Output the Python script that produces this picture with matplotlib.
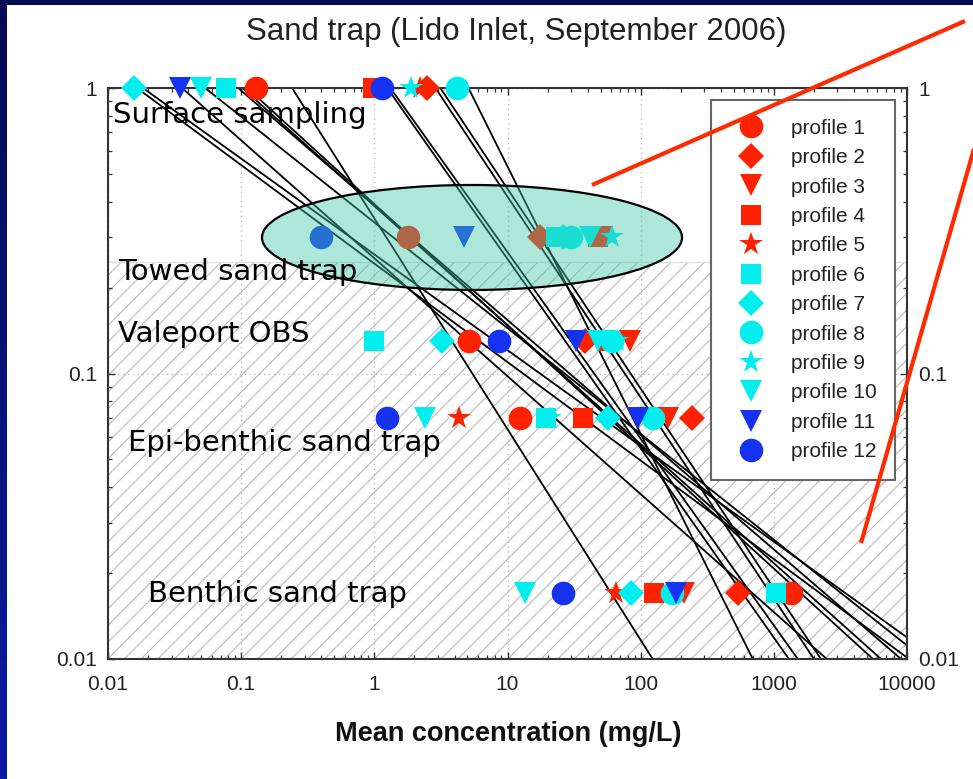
import numpy as np
import matplotlib
matplotlib.use("Agg")
import matplotlib.pyplot as plt
from matplotlib.patches import Ellipse, Rectangle
from matplotlib.lines import Line2D
from matplotlib.ticker import FixedLocator, LogLocator, NullFormatter

plt.rcParams['font.family'] = ['Liberation Sans', 'DejaVu Sans']
plt.rcParams['hatch.linewidth'] = 0.8

nan = np.nan

# sampling levels, top to bottom
heights = [1.0, 0.30, 0.13, 0.07, 0.017]
level_names = ["Surface sampling", "Towed sand trap", "Valeport OBS",
               "Epi-benthic sand trap", "Benthic sand trap"]

# mean concentration (mg/L) per profile at each level
profile_conc = {
    "profile 1":  [0.13, 1.8, 5.1, 12.5, 1340],
    "profile 2":  [2.5, 17.5, 38, 245, 540],
    "profile 3":  [nan, 51, 83, 160, 210],
    "profile 4":  [0.98, 48, 56, 36.6, 125],
    "profile 5":  [2.2, nan, 60, 4.3, 65],
    "profile 6":  [0.077, 23, 1.0, 19.3, 1030],
    "profile 7":  [0.0157, 26, 3.2, 57, 85],
    "profile 8":  [4.2, 30, 61, 124, 173],
    "profile 9":  [1.9, 61, 66, 21, nan],
    "profile 10": [0.050, 42, 47.5, 2.4, 13.5],
    "profile 11": [0.035, 4.7, 32.5, 95, 183],
    "profile 12": [1.15, 0.40, 8.7, 1.25, 26],
}
profile_colors = ['#ff2200'] * 5 + ['#00eeee'] * 5 + ['#1432f0'] * 2
profile_markers = ['o', 'D', 'v', 's', '*', 's', 'D', 'o', '*', 'v', 'v', 'o']

# power-law fits: concentration at height 1 and at height 0.01
fit_top = [0.0165, 0.0183, 0.036, 0.0536, 0.0948, 0.102, 0.111,
           0.241, 1.25, 1.32, 2.88, 3.13, 5.09]
fit_bottom = [10350, 16800, 2500, 13430, 9020, 6380, 5550,
              123, 1297, 1514, 2000, 2256, 695]

xticks = [0.01, 0.1, 1, 10, 100, 1000, 10000]
xticklabels = ['0.01', '0.1', '1', '10', '100', '1000', '10000']
yticks = [0.01, 0.1, 1]
yticklabels = ['0.01', '0.1', '1']

marker_size = {'o': 17, 's': 14, 'D': 13.5, 'v': 16, '*': 17.5}

W, H = 973, 779
fig = plt.figure(figsize=(W / 100, H / 100), dpi=100)
fig.patch.set_facecolor('white')

# slide border: dark blue gradient strip on the left, band on top
strip = fig.add_axes([0, 0, 7 / W, 1])
grad = np.linspace(0, 1, 256).reshape(-1, 1)
top_col = np.array([0.02, 0.04, 0.32])
bot_col = np.array([0.04, 0.11, 0.64])
strip.imshow(top_col + grad[:, :, None] * (bot_col - top_col), aspect='auto')
strip.axis('off')
fig.add_artist(Rectangle((0, 1 - 5 / H), 1, 5 / H, transform=fig.transFigure,
                         facecolor='#030b50', edgecolor='none'))

ax = fig.add_axes([108 / W, 1 - 659 / H, 799 / W, 571 / H])
ax.set_xscale('log')
ax.set_yscale('log')
ax.set_xlim(0.01, 10000)
ax.set_ylim(0.01, 1)

# hatched zone below the towed trap
ax.axhspan(0.01, 0.245, facecolor='white', edgecolor='#b8b8b8', hatch='//',
           linewidth=0, zorder=0.5)
ax.axhline(0.245, color='#e0e0e0', lw=1.0, zorder=0.6)

ax.grid(True, which='major', color='#bdbdbd', linestyle=(0, (1, 2.5)), linewidth=1.0)

for xt, xb in zip(fit_top, fit_bottom):
    ax.plot([xt, xb], [1, 0.01], color='black', lw=1.3, zorder=2)

for (name, conc), col, mk in zip(profile_conc.items(), profile_colors, profile_markers):
    ax.plot(conc, heights, linestyle='none', marker=mk, ms=marker_size[mk],
            color=col, markeredgewidth=0, label=name, zorder=3, clip_on=False)

ax.add_patch(Ellipse((0.4556, 0.7382), 0.5257, 0.1839, transform=ax.transAxes,
                     facecolor=(0.24, 0.78, 0.66, 0.42), edgecolor='black',
                     linewidth=1.6, zorder=4))

# level annotations
level_pos = [(0.006, 0.953), (0.0125, 0.678), (0.0125, 0.569), (0.025, 0.378), (0.05, 0.114)]
for txt, (tx, ty) in zip(level_names, level_pos):
    ax.text(tx, ty, txt, transform=ax.transAxes, ha='left', va='center',
            fontsize=21, family='DejaVu Sans', color='black', zorder=5)

ax.xaxis.set_major_locator(FixedLocator(xticks))
ax.set_xticklabels(xticklabels)
ax.yaxis.set_major_locator(FixedLocator(yticks))
ax.set_yticklabels(yticklabels)
ax.xaxis.set_minor_locator(LogLocator(base=10, subs=np.arange(2, 10)))
ax.yaxis.set_minor_locator(LogLocator(base=10, subs=np.arange(2, 10)))
ax.xaxis.set_minor_formatter(NullFormatter())
ax.yaxis.set_minor_formatter(NullFormatter())

ax.tick_params(which='major', direction='in', length=5, width=1.0, top=True,
               right=True, labelright=True, labelsize=15, labelcolor='#222222',
               color='#333333', pad=8)
ax.tick_params(which='minor', direction='in', length=3, width=0.9, top=True,
               right=True, color='#333333')
ax.tick_params(axis='x', which='major', pad=11.5)
for sp in ax.spines.values():
    sp.set_linewidth(1.5)
    sp.set_color('#333333')

leg = ax.legend(loc='upper right', bbox_to_anchor=(0.985, 0.979), fontsize=15,
                fancybox=False, edgecolor='#666666', framealpha=1,
                borderpad=0.9, handlelength=2.0, handletextpad=0.9,
                labelspacing=0.5, numpoints=1, borderaxespad=0)
leg.get_frame().set_linewidth(1.5)
leg.set_zorder(6)
for t in leg.get_texts():
    t.set_color('#222222')

fig.text(516.5 / W, 1 - 32 / H, "Sand trap (Lido Inlet, September 2006)",
         ha='center', va='center', fontsize=22.5, color='#222222')
fig.text(508 / W, 1 - 734 / H, "Mean concentration (mg/L)", ha='center',
         va='center', fontsize=19.5, fontweight='bold', color='#111111')

# red pointer lines
for (x0, y0), (x1, y1) in [((592, 185), (965, 21)), ((861, 543), (988, 100))]:
    fig.add_artist(Line2D([x0 / W, x1 / W], [1 - y0 / H, 1 - y1 / H],
                          transform=fig.transFigure, color='#ff2a00', lw=3.0,
                          solid_capstyle='butt', zorder=10))

fig.savefig('out.png', dpi=100)
